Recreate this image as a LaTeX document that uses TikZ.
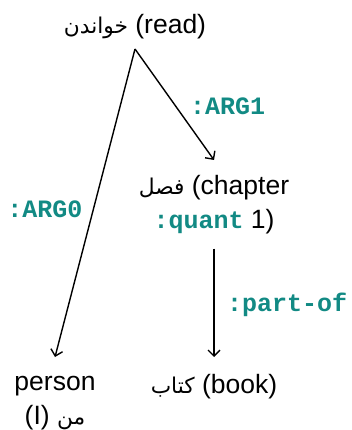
\documentclass[tikz,border=0pt]{standalone}
\usepackage{fontspec}
\setmainfont{Liberation Sans}
\setmonofont{Liberation Mono}
\newfontfamily\arabicfont[Script=Arabic,Scale=0.82]{DejaVu Sans}
\TeXXeTstate=1
\usetikzlibrary{arrows.meta}
\definecolor{roleteal}{RGB}{18,138,132}
\newcommand{\arw}[1]{{\arabicfont\beginR #1\endR}}
\tikzset{
  concept/.style={font=\fontsize{26.5}{34}\selectfont, align=center,
    inner xsep=0pt, inner ysep=15pt, outer sep=0pt},
  rel/.style={line width=1.4pt, -{Straight Barb[length=6pt,width=12pt]}},
  role/.style={font=\fontsize{25}{30}\selectfont\ttfamily\bfseries,
    text=roleteal, inner sep=0pt, outer sep=0pt}
}
\begin{document}
\begin{tikzpicture}[x=1pt,y=-1pt]
  \useasboundingbox (0,0) rectangle (352,430);
  % concepts
  \node[concept, anchor=south, inner ysep=10pt] (read) at (135,49) {\arw{خواندن} (read)};
  \node[concept, anchor=north] (chapter) at (214,160)
    {\arw{فصل} (chapter\\{\fontsize{25}{33}\selectfont\ttfamily\bfseries\color{roleteal}:quant} 1)};
  \node[concept, anchor=north, inner ysep=17pt] (book) at (214,357) {\arw{كتاب} (book)};
  \node[concept, anchor=north, inner ysep=19pt] (person) at (55,357) {person\\(I) \arw{من}};
  % relations
  \draw[rel] (read.south) -- node[role, pos=0.52, anchor=west, xshift=14pt] {:ARG1} (chapter.north);
  \draw[rel] (read.south) -- node[role, pos=0.52, anchor=east, xshift=-11pt] {:ARG0} (person.north);
  \draw[rel] (chapter.south) -- node[role, pos=0.52, anchor=west, xshift=13pt] {:part-of} (book.north);
\end{tikzpicture}
\end{document}
